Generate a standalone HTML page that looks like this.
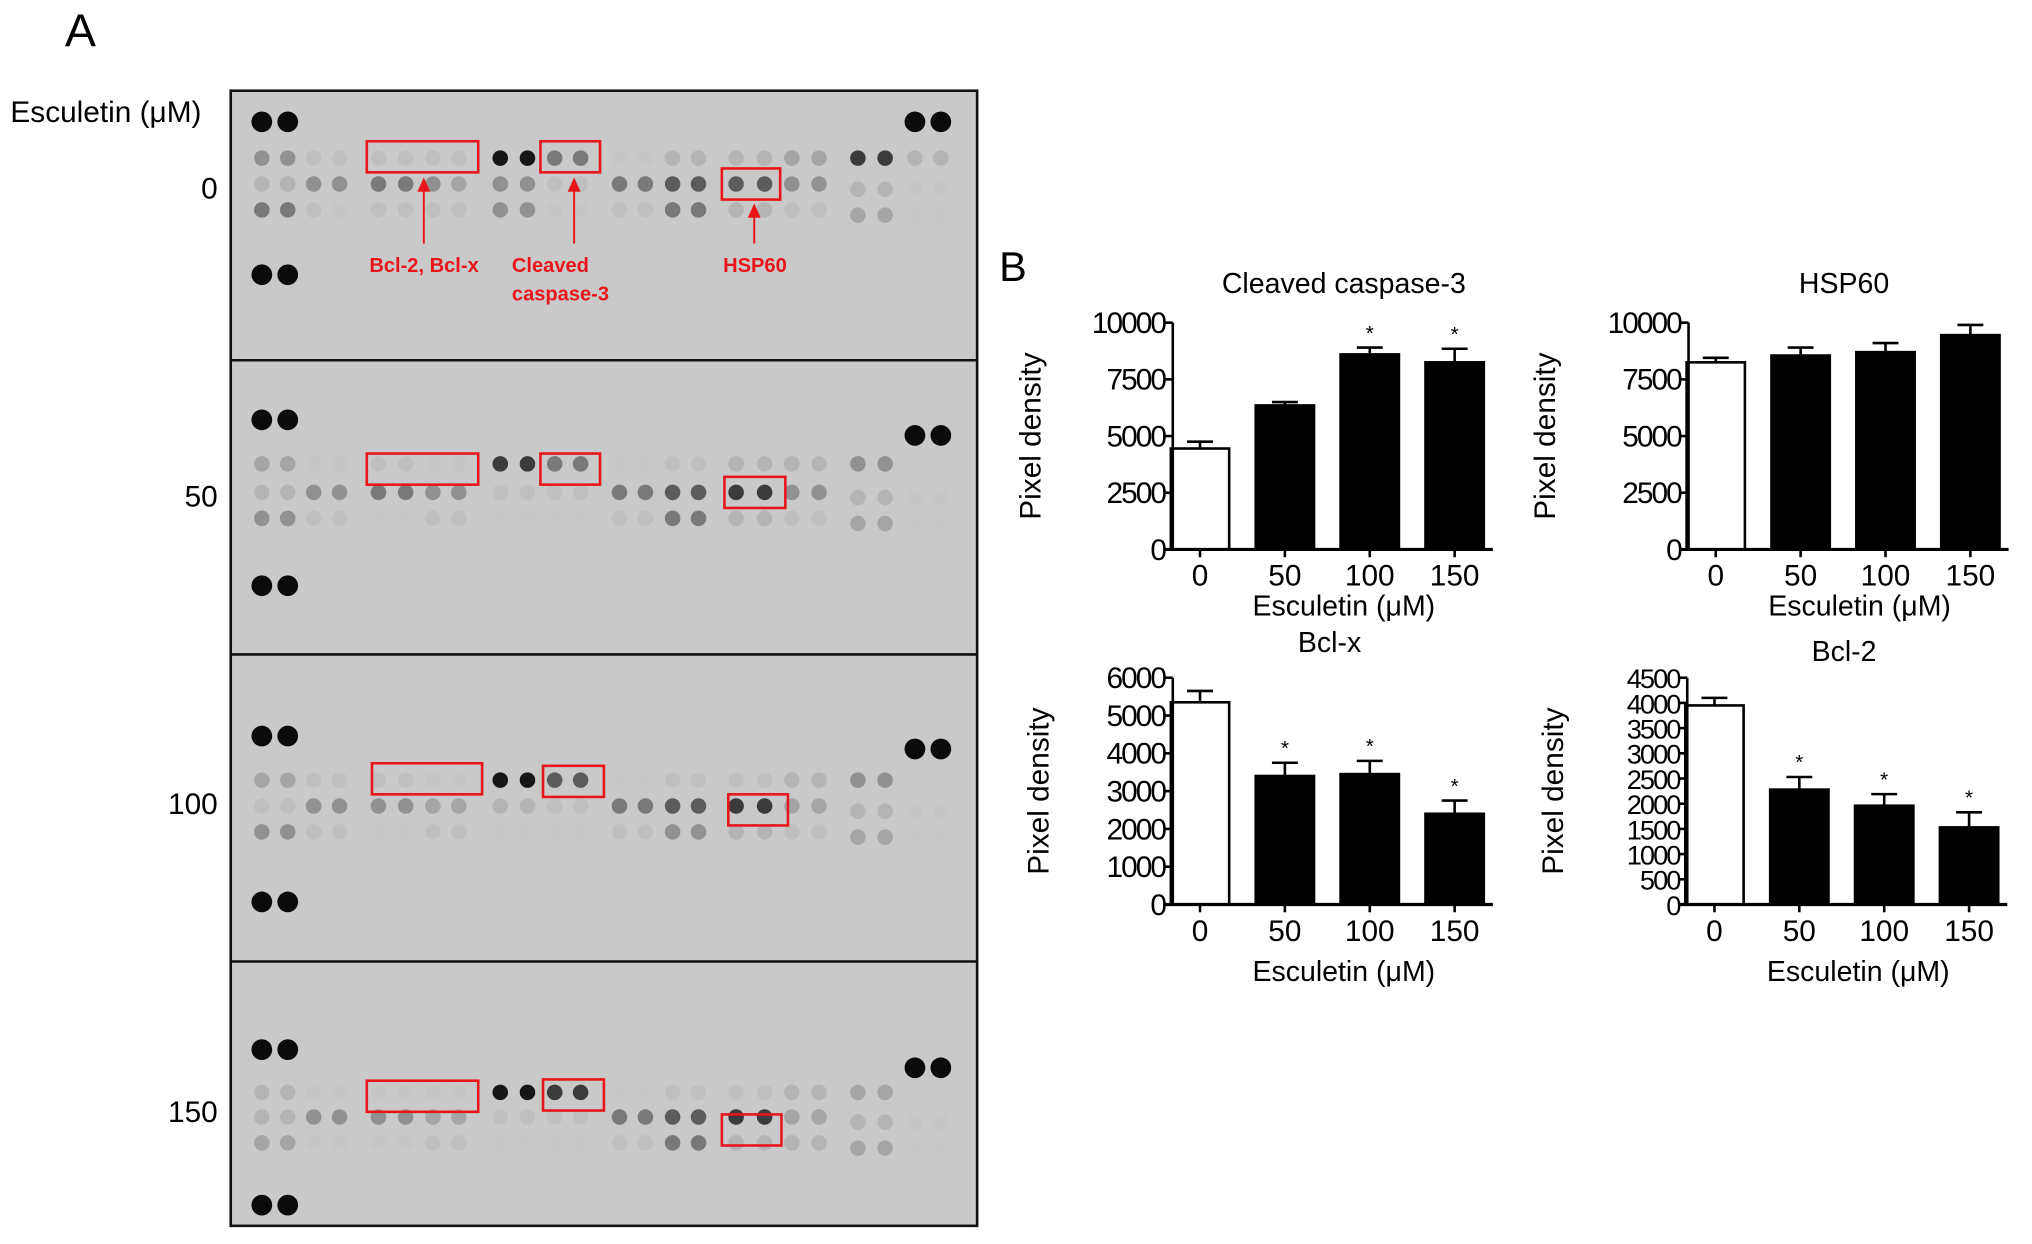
<!DOCTYPE html>
<html><head><meta charset="utf-8"><style>
html,body{margin:0;padding:0;background:#fff;}
svg{display:block;}
text{font-family:"Liberation Sans",Arial,sans-serif;}
</style></head><body>
<svg id="fig" width="2032" height="1244" viewBox="0 0 1568 960" xmlns="http://www.w3.org/2000/svg"></svg>
<script>
// ---- chart data ----
const categories = ["0","50","100","150"];
const casp3Values = [4450, 6350, 8600, 8250];
const casp3Errors = [300, 150, 300, 600];
const casp3Stars = [false, false, true, true];
const hspValues = [8250, 8550, 8700, 9450];
const hspErrors = [200, 350, 400, 450];
const hspStars = [false, false, false, false];
const bclxValues = [5350, 3400, 3450, 2400];
const bclxErrors = [300, 350, 350, 350];
const bclxStars = [false, true, true, true];
const bcl2Values = [3950, 2280, 1960, 1530];
const bcl2Errors = [150, 250, 230, 300];
const bcl2Stars = [false, true, true, true];
const casp3Ticks = [0, 2500, 5000, 7500, 10000];
const hspTicks = [0, 2500, 5000, 7500, 10000];
const bclxTicks = [0, 1000, 2000, 3000, 4000, 5000, 6000];
const bcl2Ticks = [0, 500, 1000, 1500, 2000, 2500, 3000, 3500, 4000, 4500];
const doseLabels = ["0", "50", "100", "150"];

const NS = "http://www.w3.org/2000/svg";
const svg = document.getElementById('fig');
function mk(tag, attrs, parent, text) {
  const e = document.createElementNS(NS, tag);
  for (const k in attrs) e.setAttribute(k, attrs[k]);
  if (text !== undefined) e.textContent = text;
  (parent || svg).appendChild(e);
  return e;
}

// ---- Panel A ----
const gA = mk('g', {});


const tA = mk('text', {x: 50, y: 36, 'font-size': 36}, gA, 'A');


const tE = mk('text', {x: 8, y: 94, 'font-size': 23}, gA, 'Esculetin (μM)');


const bg = mk('rect', {x: 178, y: 70, width: 576, height: 876, fill: '#c9c9c9', stroke: '#111', 'stroke-width': 2}, gA);


[278, 505, 742].forEach(y => {
  const l = mk('line', {x1: 178, x2: 754, y1: y, y2: y, stroke: '#111', 'stroke-width': 2}, gA);
  
  
});
const cols = [202,222,242,262,292,313,334,354,386,407,428,448,478,498,519,539,568,590,611,632,662,683,706,726];
const patterns = [
  ["552222229966113333448833", "335566545522667777553311", "662122225511226633224400"],
  ["441122118866002233335577", "335566552222667788553311", "552200220000226633224400"],
  ["442222119977002222335577", "225555443322667788443311", "552200220000225533224400"],
  ["331111119988002222334466", "335555442222667788443311", "441111220000226633334400"]
];
const panels = [
  {label: "0", ly: 153, top: 94, rows: [122, 142, 162], bot: 212, right: 94},
  {label: "50", ly: 391, top: 324, rows: [358, 380, 400], bot: 452, right: 336},
  {label: "100", ly: 628, top: 568, rows: [602, 622, 642], bot: 696, right: 578},
  {label: "150", ly: 866, top: 810, rows: [843, 862, 882], bot: 930, right: 824}
];
function dotColor(d) {
  const v = Math.max(20, Math.round(200 - d * d * 2.2));
  return `rgb(${v},${v},${v})`;
}
panels.forEach((p, pi) => {
  const lab = mk('text', {x: 168, y: p.ly, 'font-size': 23, 'text-anchor': 'end'}, gA, p.label);
  
  
  [[202, p.top], [222, p.top], [202, p.bot], [222, p.bot], [706, p.right], [726, p.right]].forEach(c => {
    const d = mk('circle', {cx: c[0], cy: c[1], r: 8, fill: '#0b0b0b'}, gA);
    
    
  });
  p.rows.forEach((ry, ri) => {
    const pat = patterns[pi][ri];
    cols.forEach((cx, ci) => {
      const d = +pat[ci];
      if (pi > 0 && ci >= 22 && ri === 0) return;
      const c = mk('circle', {cx: cx, cy: ry + (ci >= 20 && ri > 0 ? 4 : 0), r: 6, fill: dotColor(d)}, gA);
      
      
    });
  });
});
const boxes = [
  [283,109,86,24],[417,109,46,24],[557,130,45,24],
  [283,350,86,24],[417,350,46,24],[559,368,47,24],
  [287,589,85,24],[419,591,47,24],[562,613,46,24],
  [283,834,86,24],[419,833,47,24],[557,860,46,24]
];
boxes.forEach(b => {
  const r = mk('rect', {x: b[0], y: b[1], width: b[2], height: b[3], fill: 'none', stroke: '#e8161b', 'stroke-width': 2}, gA);
  
  
});
[[327,137],[443,137],[582,157]].forEach(a => {
  const l = mk('line', {x1: a[0], x2: a[0], y1: 188, y2: a[1] + 8, stroke: '#e8161b', 'stroke-width': 1.5}, gA);
  
  
  const h = mk('polygon', {points: `${a[0]-5},${a[1]+11} ${a[0]+5},${a[1]+11} ${a[0]},${a[1]}`, fill: '#e8161b'}, gA);
  
  
});
[["Bcl-2, Bcl-x", 285, 210], ["Cleaved", 395, 210], ["caspase-3", 395, 232], ["HSP60", 558, 210]].forEach(t => {
  const e = mk('text', {x: t[1], y: t[2], 'font-size': 15.5, 'font-weight': 'bold', fill: '#e8161b'}, gA, t[0]);
  
  
});

// ---- Panel B ----
const tB = mk('text', {x: 771, y: 217, 'font-size': 32}, svg, 'B');



function barChart(cfg) {
  const g = mk('g', {});
  
  
  const maxV = cfg.ticks[cfg.ticks.length - 1];
  const yS = v => cfg.base - (v / maxV) * (cfg.base - cfg.top);
  const xS = i => cfg.x0 + 21 + i * 65.5;
  const bw = 45;
  cfg.values.forEach((v, i) => {
    const cx = xS(i);
    const ey = yS(v + cfg.errors[i]);
    const el = mk('line', {x1: cx, x2: cx, y1: yS(v), y2: ey, stroke: '#000', 'stroke-width': 2}, g);
    
    
    const ec = mk('line', {x1: cx - 10, x2: cx + 10, y1: ey, y2: ey, stroke: '#000', 'stroke-width': 2}, g);
    
    
    const r = mk('rect', {x: cx - bw / 2, y: yS(v), width: bw, height: cfg.base - yS(v), fill: i === 0 ? '#fff' : '#000', stroke: '#000', 'stroke-width': 2}, g);
    
    
    if (cfg.stars[i]) {
      const s = mk('text', {x: cx, y: ey - 6, 'font-size': 16, 'text-anchor': 'middle'}, g, '*');
      
      
    }
    const tl = mk('text', {x: cx, y: cfg.base + 28, 'font-size': 23, 'text-anchor': 'middle'}, g, doseLabels[i]);
    
    
    const tk = mk('line', {x1: cx, x2: cx, y1: cfg.base, y2: cfg.base + 6, stroke: '#000', 'stroke-width': 2}, g);
    
    
  });
  const ya = mk('line', {x1: cfg.x0, x2: cfg.x0, y1: cfg.top, y2: cfg.base, stroke: '#000', 'stroke-width': 2}, g);
  
  
  const xa = mk('line', {x1: cfg.x0 - 6, x2: cfg.x0 + 247, y1: cfg.base, y2: cfg.base, stroke: '#000', 'stroke-width': 2.5}, g);
  
  
  cfg.ticks.forEach(t => {
    const y = yS(t);
    const tk = mk('line', {x1: cfg.x0 - 6, x2: cfg.x0, y1: y, y2: y, stroke: '#000', 'stroke-width': 2}, g);
    
    
    const tl = mk('text', {x: cfg.x0 - 6, y: y + 8, 'font-size': cfg.tfs, 'text-anchor': 'end', 'letter-spacing': -1.5}, g, String(t));
    
    
  });
  const ti = mk('text', {x: cfg.titleX, y: cfg.titleY, 'font-size': 22, 'text-anchor': 'middle'}, g, cfg.title);
  
  
  const xt = mk('text', {x: cfg.x0 + 132, y: cfg.xtY, 'font-size': 22, 'text-anchor': 'middle'}, g, 'Esculetin (μM)');
  
  
  const cy = (cfg.top + cfg.base) / 2;
  const yt = mk('text', {x: cfg.ytX, y: cy, 'font-size': 23, 'text-anchor': 'middle', transform: `rotate(-90 ${cfg.ytX} ${cy})`}, g, 'Pixel density');
  
  
}
barChart({name: 'chart-cleaved-caspase-3', x0: 905, top: 249, base: 424, values: casp3Values, errors: casp3Errors, stars: casp3Stars, ticks: casp3Ticks, title: 'Cleaved caspase-3', titleX: 1037, titleY: 226, xtY: 475, ytX: 803, tfs: 23});
barChart({name: 'chart-hsp60', x0: 1303, top: 249, base: 424, values: hspValues, errors: hspErrors, stars: hspStars, ticks: hspTicks, title: 'HSP60', titleX: 1423, titleY: 226, xtY: 475, ytX: 1200, tfs: 23});
barChart({name: 'chart-bcl-x', x0: 905, top: 523, base: 698, values: bclxValues, errors: bclxErrors, stars: bclxStars, ticks: bclxTicks, title: 'Bcl-x', titleX: 1026, titleY: 503, xtY: 757, ytX: 809, tfs: 23});
barChart({name: 'chart-bcl-2', x0: 1302, top: 523, base: 698, values: bcl2Values, errors: bcl2Errors, stars: bcl2Stars, ticks: bcl2Ticks, title: 'Bcl-2', titleX: 1423, titleY: 510, xtY: 757, ytX: 1206, tfs: 21});
</script>
</body></html>
